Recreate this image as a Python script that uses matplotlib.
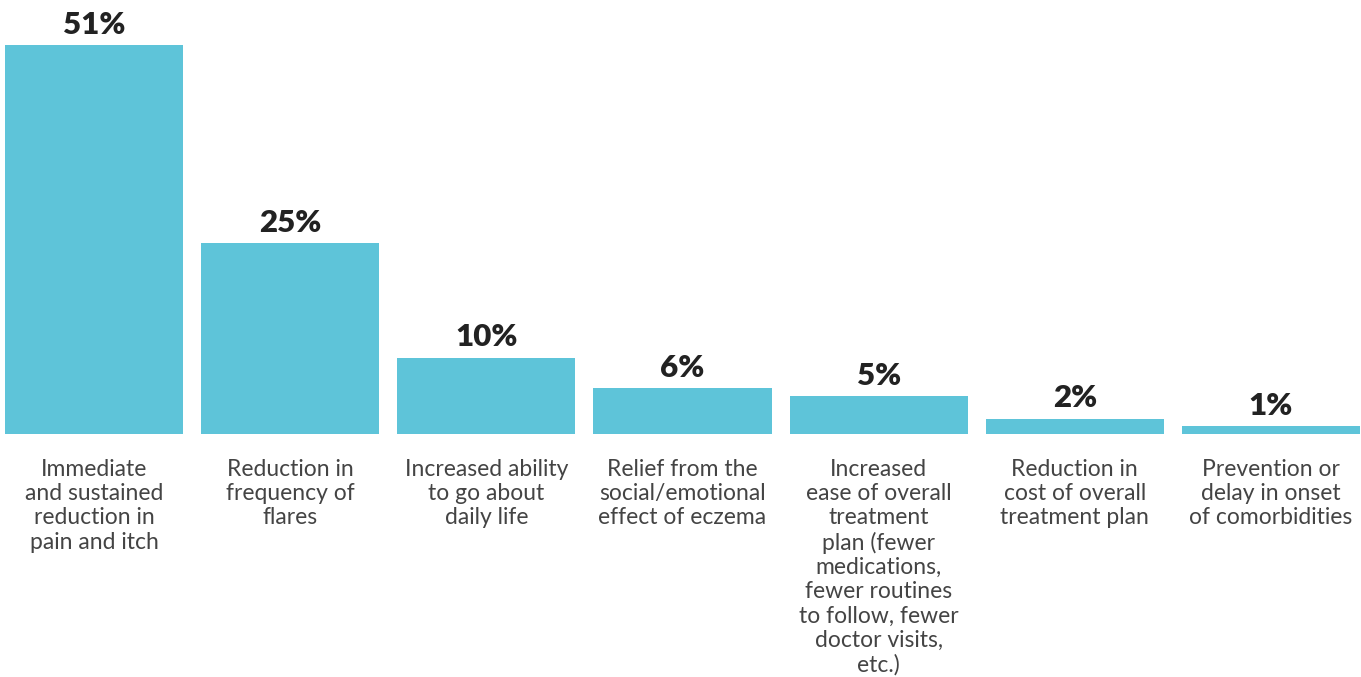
import matplotlib.pyplot as plt

categorias = [
    'Immediate\nand sustained\nreduction in\npain and itch',
    'Reduction in\nfrequency of\nflares',
    'Increased ability\nto go about\ndaily life',
    'Relief from the\nsocial/emotional\neffect of eczema',
    'Increased\nease of overall\ntreatment\nplan (fewer\nmedications,\nfewer routines\nto follow, fewer\ndoctor visits,\netc.)',
    'Reduction in\ncost of overall\ntreatment plan',
    'Prevention or\ndelay in onset\nof comorbidities',
]
percentuais = [51, 25, 10, 6, 5, 2, 1]

plt.rcParams['font.family'] = ['Lato', 'DejaVu Sans']

fig = plt.figure(figsize=(13.61, 6.77), dpi=100)
ax = fig.add_axes([5 / 1361, 1 - 434 / 677, 1355 / 1361, (434 - 45) / 677])

largura = 0.908
posicoes = range(len(percentuais))
barras = ax.bar(posicoes, percentuais, width=largura, color='#5EC4D9')

# rotulos de valor acima de cada barra
for x, v in zip(posicoes, percentuais):
    ax.annotate('%d%%' % v, (x, v), xytext=(0, 4.5), textcoords='offset points',
                ha='center', va='bottom', fontsize=22.5, fontweight='heavy', color='#222222')

ax.set_xlim(-largura / 2, len(percentuais) - 1 + largura / 2)
ax.set_ylim(0, 51)
ax.set_xticks(list(posicoes))
ax.set_xticklabels(categorias, fontsize=16.5, color='#444444', linespacing=1.19)
ax.tick_params(axis='x', length=0, pad=18)
ax.set_yticks([])
for lado in ax.spines.values():
    lado.set_visible(False)

plt.savefig('out.png', dpi=100)
plt.close()
